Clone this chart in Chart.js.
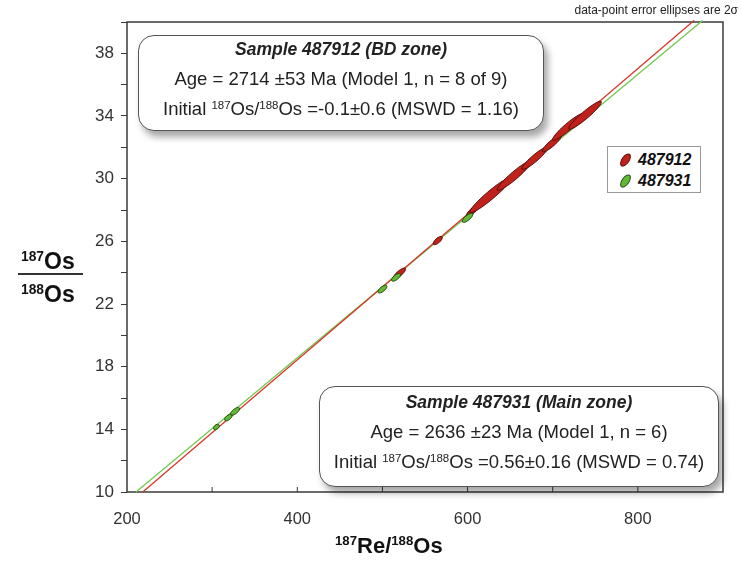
<!DOCTYPE html>
<html>
<head>
<meta charset="utf-8">
<script src="https://cdn.jsdelivr.net/npm/chart.js@4/dist/chart.umd.min.js"></script>
<style>
  html, body { margin:0; padding:0; background:#fff; }
  #wrap { position:relative; width:741px; height:562px; font-family:"Liberation Sans", Arial, sans-serif; color:#222; }
  canvas { position:absolute; left:0; top:0; }
  .box { position:absolute; background:#fff; border:1.5px solid #555; border-radius:16px;
         box-shadow: 4px 6px 7px rgba(0,0,0,0.35); text-align:center; color:#222; }
  .box div { position:absolute; left:0; right:0; white-space:nowrap; }
  .box sup { font-size:0.62em; vertical-align:0.55em; line-height:0; }
  .t1 { font-weight:bold; font-style:italic; }
  #legend { position:absolute; left:607px; top:146px; width:92px; height:45px; border:1px solid #999; background:#fff; }
  #legend .row { position:absolute; left:0; height:20px; font-weight:bold; font-style:italic; font-size:16px; color:#111; }
  #legend .ico { position:absolute; left:10px; top:6px; width:13px; height:6px; border-radius:50%; transform:rotate(-55deg); }
  #legend .lab { position:absolute; left:30px; top:1px; }
  .ttl { position:absolute; font-weight:bold; color:#111; white-space:nowrap; }
  .ttl sup { font-size:0.6em; vertical-align:0.6em; line-height:0; }
</style>
</head>
<body>
<div id="wrap">
  <canvas id="c" width="741" height="562"></canvas>

  <div class="box" style="left:138px; top:35px; width:404px; height:94px;">
    <div class="t1" style="top:3px; font-size:17.5px;">Sample 487912 (BD zone)</div>
    <div style="top:32px; font-size:18.5px;">Age = 2714 ±53 Ma (Model 1, n = 8 of 9)</div>
    <div style="top:62px; font-size:18.5px;">Initial <sup>187</sup>Os/<sup>188</sup>Os =-0.1±0.6 (MSWD = 1.16)</div>
  </div>

  <div class="box" style="left:319px; top:386px; width:398px; height:99px;">
    <div class="t1" style="top:5px; font-size:17.5px;">Sample 487931 (Main zone)</div>
    <div style="top:34px; font-size:18.5px;">Age = 2636 ±23 Ma (Model 1, n = 6)</div>
    <div style="top:64px; font-size:18.5px;">Initial <sup>187</sup>Os/<sup>188</sup>Os =0.56±0.16 (MSWD = 0.74)</div>
  </div>

  <div id="legend">
    <div class="row" style="top:3px;"><span class="ico" style="background:#c1211b;border:1px solid #5a0c08;"></span><span class="lab">487912</span></div>
    <div class="row" style="top:24px;"><span class="ico" style="background:#62b833;border:1px solid #24501a;"></span><span class="lab">487931</span></div>
  </div>

  <div style="position:absolute; right:3px; top:3px; font-size:12px; color:#222; white-space:nowrap;">data-point error ellipses are 2σ</div>

  <div class="ttl" style="left:335px; top:533px; font-size:22px;"><sup>187</sup>Re/<sup>188</sup>Os</div>

  <div class="ttl" style="left:21px; top:248px; font-size:23px;"><sup>187</sup>Os</div>
  <div style="position:absolute; left:18px; top:273px; width:65px; height:2px; background:#333;"></div>
  <div class="ttl" style="left:21px; top:281px; font-size:23px;"><sup>188</sup>Os</div>
</div>

<script>
// ---- data ----
const redX  = [520, 565, 606, 627, 655, 679, 699, 718, 738];
const redY  = [23.95, 26.05, 27.95, 28.95, 30.2, 31.3, 32.25, 33.3, 34.05];
const redSx = [7, 5, 7, 24, 20, 15, 11, 18, 19];
const redSy = [0.33, 0.24, 0.32, 1.1, 0.93, 0.7, 0.52, 0.84, 0.88];

const greenX  = [305, 319, 327, 500, 516, 600];
const greenY  = [14.15, 14.75, 15.15, 22.95, 23.7, 27.5];
const greenSx = [3, 4, 5, 5, 5, 6];
const greenSy = [0.14, 0.18, 0.22, 0.22, 0.22, 0.27];

const redLineX   = [218.5, 866];
const redLineY   = [10, 40.1];
const greenLineX = [210.5, 876];
const greenLineY = [10, 40.1];

const xTickLabels = [200, 400, 600, 800];
const yTickLabels = [10, 14, 18, 22, 26, 30, 34, 38];

const pts = (xs, ys) => xs.map((x, i) => ({ x: x, y: ys[i] }));

const frameAndTicks = {
  id: 'frameAndTicks',
  beforeDatasetsDraw(chart) {
    const { ctx, chartArea: a, scales } = chart;
    ctx.save();
    ctx.strokeStyle = '#3a3a3a';
    ctx.lineWidth = 1.5;
    ctx.strokeRect(a.left, a.top, a.right - a.left, a.bottom - a.top);
    ctx.lineWidth = 1;
    scales.x.ticks.forEach(t => {
      const px = scales.x.getPixelForValue(t.value);
      if (px <= a.left + 1 || px >= a.right - 1) return;
      ctx.beginPath();
      ctx.moveTo(px, a.bottom);
      ctx.lineTo(px, a.bottom - 5);
      ctx.stroke();
    });
    ctx.restore();
  }
};

const ellipses = {
  id: 'ellipses',
  afterDatasetsDraw(chart) {
    const { ctx, scales } = chart;
    chart.data.datasets.forEach((ds, di) => {
      if (!ds.ell) return;
      const meta = chart.getDatasetMeta(di);
      meta.data.forEach((el, j) => {
        const d = ds.data[j];
        const cx = el.x, cy = el.y;
        const vx = scales.x.getPixelForValue(d.x + ds.ell.sx[j]) - cx;
        const vy = scales.y.getPixelForValue(d.y + ds.ell.sy[j]) - cy;
        const L = Math.hypot(vx, vy);
        const ang = Math.atan2(vy, vx);
        const m = 1.9 + 0.085 * L;
        ctx.save();
        ctx.beginPath();
        ctx.ellipse(cx, cy, L, m, ang, 0, Math.PI * 2);
        ctx.fillStyle = ds.ell.fill;
        ctx.fill();
        ctx.lineWidth = 0.9;
        ctx.strokeStyle = ds.ell.stroke;
        ctx.stroke();
        ctx.restore();
      });
    });
  }
};

new Chart(document.getElementById('c'), {
  type: 'scatter',
  data: {
    datasets: [
      { label: 'red isochron', data: pts(redLineX, redLineY), showLine: true, borderColor: '#d8352c', borderWidth: 1.3, pointRadius: 0, clip: false },
      { label: 'green isochron', data: pts(greenLineX, greenLineY), showLine: true, borderColor: '#72c84c', borderWidth: 1.3, pointRadius: 0, clip: false },
      { label: '487912', data: pts(redX, redY), pointRadius: 0, pointHoverRadius: 0,
        ell: { sx: redSx, sy: redSy, fill: '#c1211b', stroke: '#4a0c08' } },
      { label: '487931', data: pts(greenX, greenY), pointRadius: 0, pointHoverRadius: 0,
        ell: { sx: greenSx, sy: greenSy, fill: '#62b833', stroke: '#1f4a12' } }
    ]
  },
  options: {
    responsive: false,
    animation: false,
    events: [],
    layout: { padding: { top: 22, right: 17, left: 0, bottom: 0 } },
    plugins: { legend: { display: false }, tooltip: { enabled: false } },
    scales: {
      x: {
        type: 'linear', min: 200, max: 900,
        afterFit(s) { s.height = 70; },
        border: { display: false },
        grid: { display: true, drawOnChartArea: false, drawTicks: false },
        ticks: {
          stepSize: 100, autoSkip: false, maxRotation: 0, padding: 18,
          color: '#333', font: { family: '"Liberation Sans", Arial, sans-serif', size: 16.5 },
          callback: v => xTickLabels.includes(v) ? String(v) : ''
        }
      },
      y: {
        type: 'linear', min: 10, max: 40,
        afterFit(s) { s.width = 127; },
        border: { display: false },
        grid: { display: true, drawOnChartArea: false, drawTicks: true, tickLength: 6, color: '#3a3a3a', lineWidth: 1 },
        ticks: {
          stepSize: 2, autoSkip: false, padding: 7,
          color: '#333', font: { family: '"Liberation Sans", Arial, sans-serif', size: 17 },
          callback: v => yTickLabels.includes(v) ? String(v) : ''
        }
      }
    }
  },
  plugins: [frameAndTicks, ellipses]
});
</script>
</body>
</html>
